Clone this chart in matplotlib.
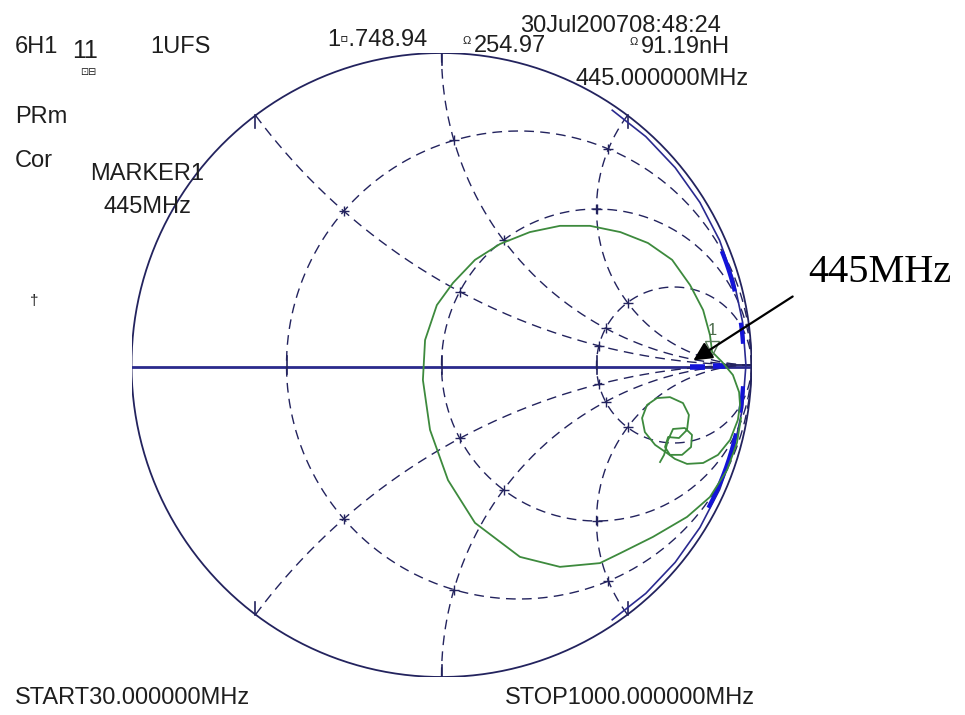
import numpy as np
import matplotlib.pyplot as plt

W, H = 965, 715

# grid values of the chart
r_circles = [1/3, 1, 3]
x_arcs = [0.5, 1, 2, -0.5, -1, -2]

# green S11 trace (reflection coefficient)
trace_re = [0.966, 0.953, 0.921, 0.866, 0.792, 0.682, 0.577, 0.511, 0.382, 0.253,
            0.108, 0.021, -0.037, -0.060, -0.053, -0.015, 0.037, 0.108, 0.189, 0.285,
            0.382, 0.479, 0.577, 0.666, 0.744, 0.802, 0.844, 0.866, 0.873, 0.905,
            0.940, 0.960, 0.963, 0.956, 0.931, 0.892, 0.844, 0.792, 0.753, 0.727,
            0.689, 0.656, 0.647, 0.663, 0.695, 0.737, 0.779, 0.798, 0.792, 0.766,
            0.731, 0.721, 0.737, 0.776, 0.805, 0.808, 0.785, 0.747, 0.731, 0.718, 0.705]
trace_im = [-0.170, -0.250, -0.337, -0.423, -0.487, -0.551, -0.603, -0.635, -0.647, -0.615,
            -0.506, -0.369, -0.208, -0.048, 0.080, 0.192, 0.263, 0.337, 0.388, 0.426,
            0.446, 0.446, 0.426, 0.391, 0.337, 0.256, 0.176, 0.096, 0.042, 0.010,
            -0.032, -0.087, -0.128, -0.176, -0.240, -0.288, -0.314, -0.317, -0.301, -0.282,
            -0.256, -0.215, -0.170, -0.128, -0.106, -0.103, -0.122, -0.160, -0.208, -0.234,
            -0.231, -0.263, -0.288, -0.288, -0.263, -0.224, -0.202, -0.205, -0.240, -0.288, -0.311]

# second (blue) trace hugging the rim: angle in degrees, magnitude
edge_ang = [56, 48, 40, 32, 24, 16, 8, 0, -8, -16, -24, -32, -40, -48, -56]
edge_mag = [0.985, 0.985, 0.984, 0.983, 0.982, 0.981, 0.981, 0.982, 0.981, 0.981,
            0.982, 0.983, 0.984, 0.985, 0.985]
# bright blue segments (angle start, angle end) on the rim
blob_ang = [(22, 14), (8, 4), (-4, -9), (-13, -28)]
# marker 1 position
mk_re, mk_im = 0.873, 0.055

navy = '#23235e'
fam = ['Liberation Sans', 'DejaVu Sans']

fig = plt.figure(figsize=(W / 100, H / 100), dpi=100)
ax = fig.add_axes([131.5 / W, (H - 677) / H, 620 / W, 624 / H])
ax.set_xlim(-1, 1)
ax.set_ylim(-1, 1)
ax.axis('off')

# outer circle and real axis
t = np.linspace(0, 2 * np.pi, 600)
ax.plot(np.cos(t), np.sin(t), color=navy, lw=1.3)
ax.plot([-1, 1], [-0.006, -0.006], color='#2a2a8c', lw=2)

# resistance circles
for r in r_circles:
    c, rad = r / (1 + r), 1 / (1 + r)
    ax.plot(c + rad * np.cos(t), rad * np.sin(t), color=navy, lw=1.0, dashes=(7, 4.5))
    gx = c - rad
    ax.plot([gx, gx], [-0.03, 0.03], color=navy, lw=1.2)

# reactance arcs
rr = np.concatenate([[0], np.logspace(-3, 4, 900)])
for x in x_arcs:
    z = rr + 1j * x
    g = (z - 1) / (z + 1)
    ax.plot(g.real, g.imag, color=navy, lw=1.0, dashes=(7, 4.5))
    g0 = g[0]
    s = -1 if x > 0 else 1
    ax.plot([g0.real, g0.real], [g0.imag, g0.imag + s * 0.04], color=navy, lw=1.2)

# small crosses where grid lines meet
for r in r_circles:
    for x in x_arcs:
        g = (r + 1j * x - 1) / (r + 1j * x + 1)
        ax.plot(g.real, g.imag, marker='+', ms=7, mew=1.0, color=navy)

# blue rim trace
ea = np.radians(edge_ang)
em = np.array(edge_mag)
ax.plot(em * np.cos(ea), em * np.sin(ea), color='#2a2a90', lw=1.2)
for a0, a1 in blob_ang:
    aa = np.radians(np.linspace(a0, a1, 10))
    ax.plot(0.975 * np.cos(aa), 0.975 * np.sin(aa), color='#1414d8', lw=3, solid_capstyle='butt')
ax.plot([0.80, 0.85], [-0.006, -0.006], color='#1414d8', lw=4, solid_capstyle='butt')
ax.plot([0.875, 0.915], [-0.004, -0.004], color='#1414d8', lw=4, solid_capstyle='butt')

# green trace
ax.plot(trace_re, trace_im, color='#3d8a3d', lw=1.3)
ax.plot([mk_re], [mk_im], marker='v', ms=10, mfc='none', mec='#5a7a5a', mew=1.0)
ax.text(mk_re, mk_im + 0.03, '1', color='#4a6a4a', fontsize=12, ha='center', va='bottom',
        family=fam)


def ptxt(x, y, s, size=17, **kw):
    fig.text(x / W, 1 - y / H, s, fontsize=size, va='baseline', ha='left',
             color='#1e1e1e', family=fam, **kw)


ptxt(15, 53, '6H1')
ptxt(72, 58, '11', size=18)
ptxt(80, 75, '\u22a1\u229f', size=7)
ptxt(150, 53, '1UFS')
ptxt(327, 46, '1\u25ab.748.94')
ptxt(463, 44, '\u03a9', size=8)
ptxt(474, 52, '254.97')
ptxt(520, 32, '30Jul200708:48:24')
ptxt(630, 45, '\u03a9', size=8)
ptxt(641, 53, '91.19nH')
ptxt(575, 85, '445.000000MHz')
ptxt(15, 123, 'PRm')
ptxt(15, 167, 'Cor')
ptxt(90, 180, 'MARKER1')
ptxt(103, 213, '445MHz')
ptxt(30, 305, '\u2020', size=11)
ptxt(15, 704, 'START30.000000MHz')
ptxt(505, 704, 'STOP1000.000000MHz')

fig.text(808 / W, 1 - 282 / H, '445MHz', fontsize=29, va='baseline', ha='left',
         color='black', family=['Liberation Serif', 'DejaVu Serif'])
ax.annotate('', xy=(0.805, 0.01), xytext=((795 - 441.5) / 310, (365 - 295) / 312),
            arrowprops=dict(arrowstyle='-|>', color='black', lw=1.6, mutation_scale=28),
            annotation_clip=False)

fig.savefig('out.png', dpi=100)
